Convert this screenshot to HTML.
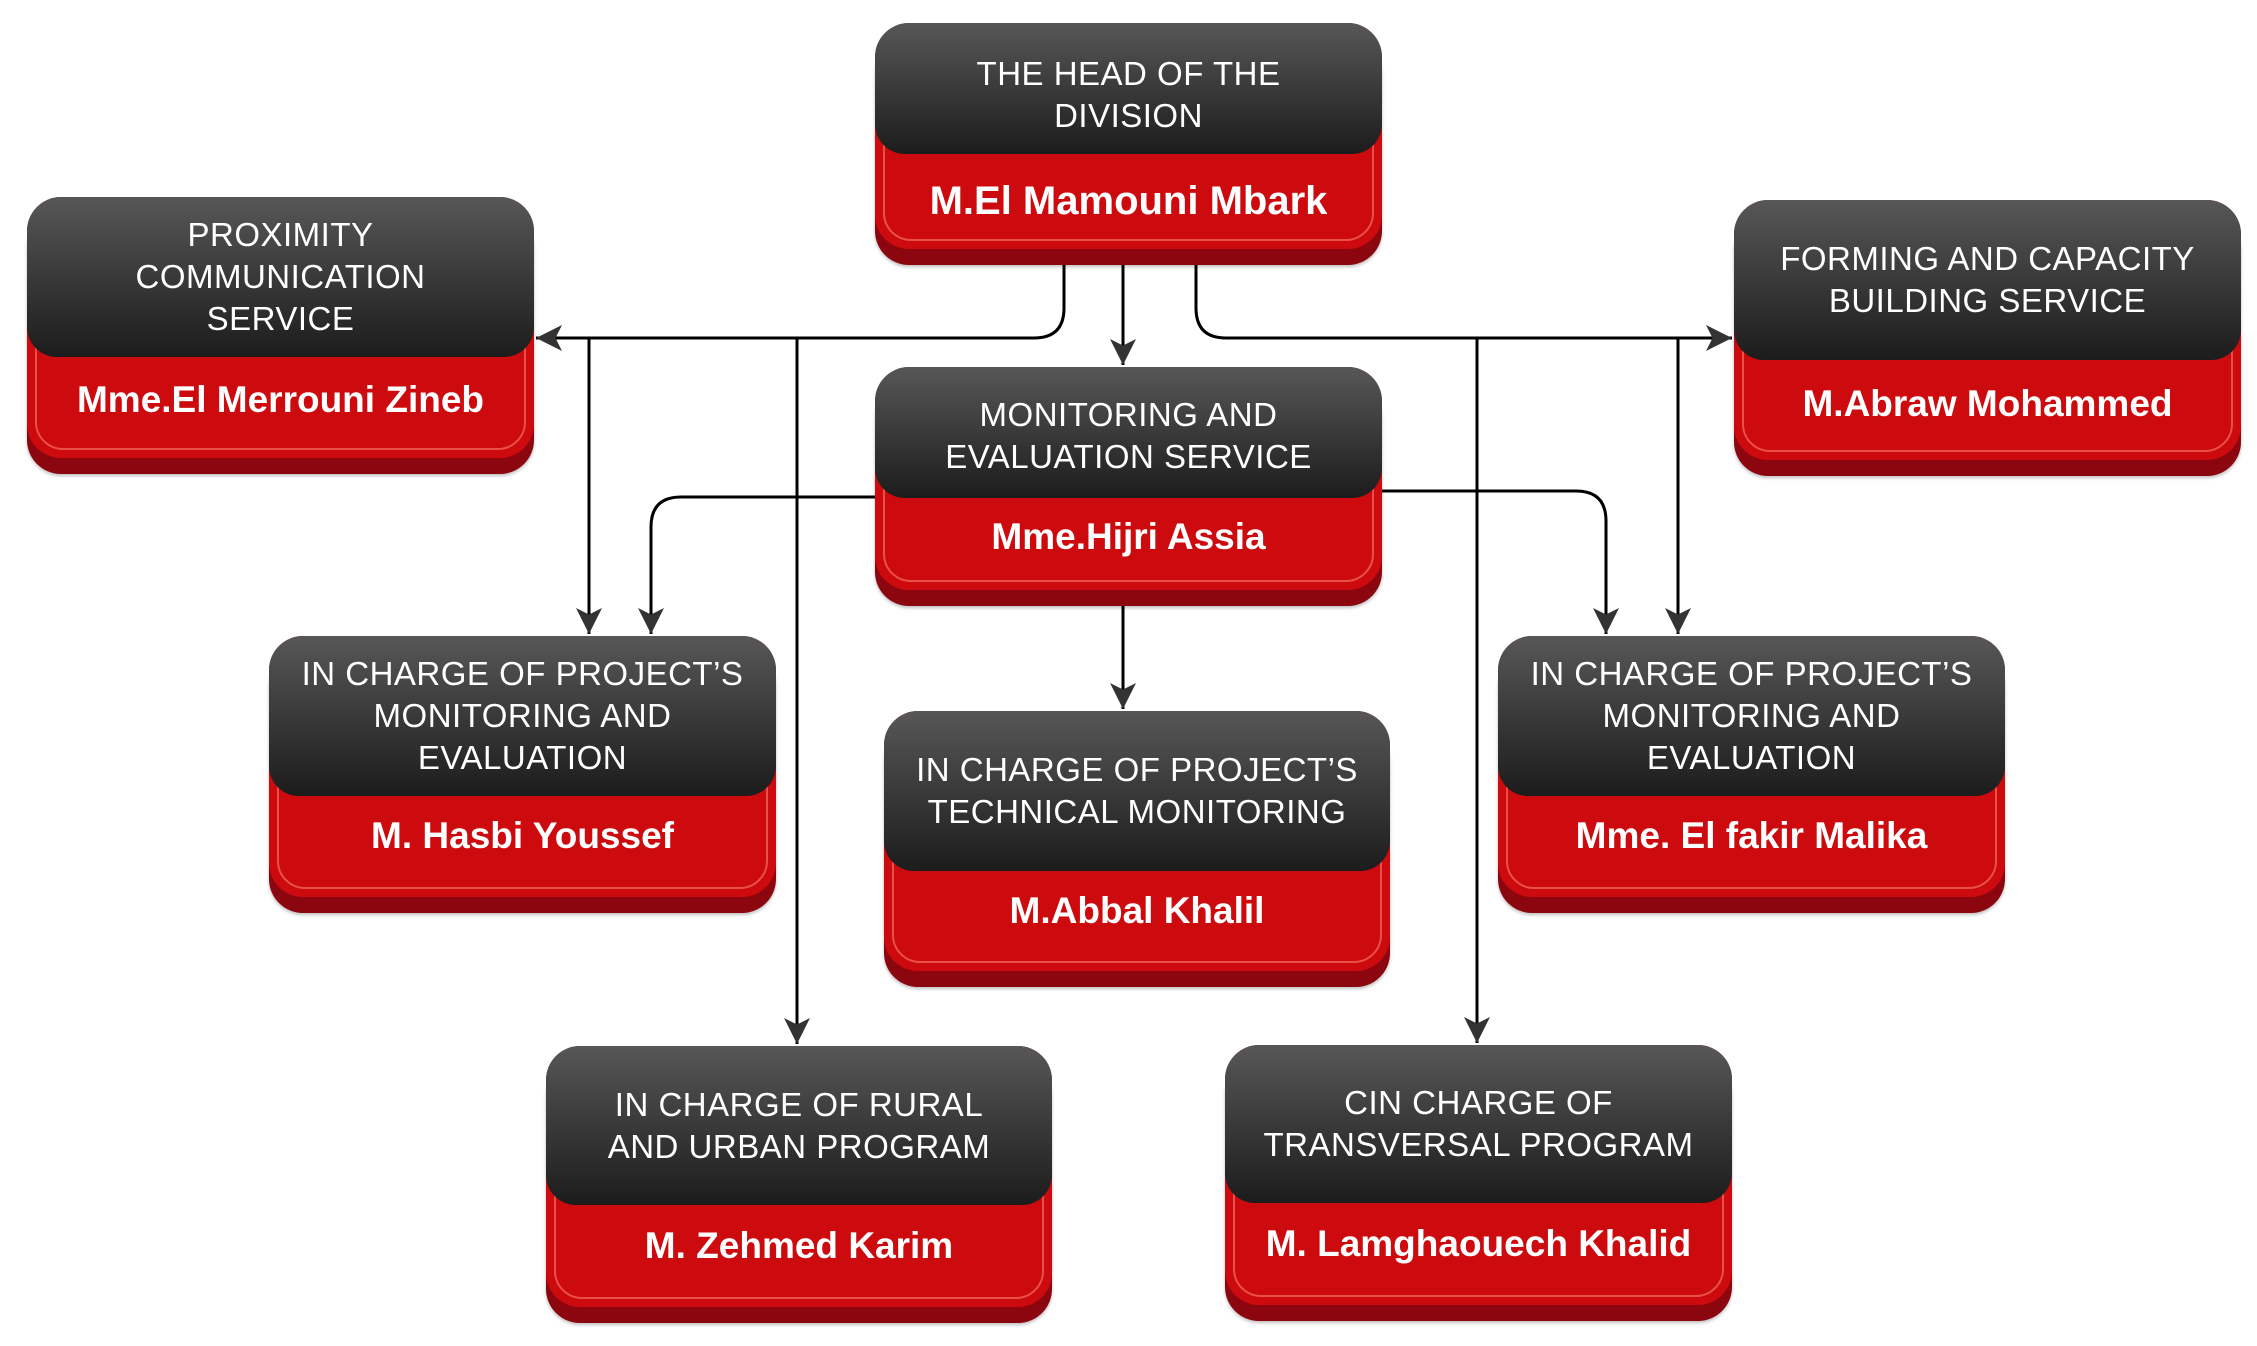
<!DOCTYPE html>
<html><head><meta charset="utf-8"><style>
html,body{margin:0;padding:0;background:#fff;}
body{width:2257px;height:1346px;position:relative;overflow:hidden;font-family:"Liberation Sans",sans-serif;}
svg{position:absolute;left:0;top:0;}
.n{position:absolute;border-radius:34px;background:#cd0a0d;box-shadow:0 16px 0 #8c0610, 0 18px 3px rgba(0,0,0,0.25);}
.n .hl{position:absolute;left:8px;right:8px;top:8px;bottom:8px;border-radius:28px;border:2px solid rgba(255,140,120,0.55);}
.n .d{position:absolute;left:0;right:0;top:0;border-radius:34px 34px 30px 30px;background:linear-gradient(#575757,#1c1c1c);color:#fff;font-size:33px;line-height:42px;text-align:center;display:flex;align-items:center;justify-content:center;letter-spacing:0.5px;}
.n .r{position:absolute;left:0;right:0;color:#fff;font-weight:bold;font-size:37px;text-align:center;display:flex;align-items:center;justify-content:center;}
</style></head><body>
<svg width="2257" height="1346">
<defs><marker id="a" viewBox="0 0 10 10" refX="10" refY="5" markerWidth="26" markerHeight="26" markerUnits="userSpaceOnUse" orient="auto"><path d="M0,0 L10,5 L0,10 L2.5,5 z" fill="#333"/></marker></defs>
<g fill="none" stroke="#000" stroke-width="3">
<path d="M1064 265 V308 Q1064 338 1034 338 H536" marker-end="url(#a)"/>
<path d="M1196 265 V308 Q1196 338 1226 338 H1732" marker-end="url(#a)"/>
<path d="M589 338 V634" marker-end="url(#a)"/>
<path d="M797 338 V1044" marker-end="url(#a)"/>
<path d="M1477 338 V1043" marker-end="url(#a)"/>
<path d="M1678 338 V634" marker-end="url(#a)"/>
<path d="M1123 265 V365" marker-end="url(#a)"/>
<path d="M1123 606 V709" marker-end="url(#a)"/>
<path d="M875 497 H681 Q651 497 651 527 V634" marker-end="url(#a)"/>
<path d="M1382 491 H1576 Q1606 491 1606 521 V634" marker-end="url(#a)"/>
</g></svg>

<div class="n" style="left:875px;top:23px;width:507px;height:226px;"><div class="hl"></div><div class="d" style="height:131px;padding-top:12px;box-sizing:border-box;">THE HEAD OF THE<br>DIVISION</div><div class="r" style="top:131px;height:95px;font-size:40px;">M.El Mamouni Mbark</div></div>

<div class="n" style="left:27px;top:197px;width:507px;height:261px;"><div class="hl"></div><div class="d" style="height:160px;">PROXIMITY<br>COMMUNICATION<br>SERVICE</div><div class="r" style="top:160px;height:85px;">Mme.El Merrouni Zineb</div></div>

<div class="n" style="left:1734px;top:200px;width:507px;height:260px;"><div class="hl"></div><div class="d" style="height:160px;">FORMING AND CAPACITY<br>BUILDING SERVICE</div><div class="r" style="top:160px;height:88px;">M.Abraw Mohammed</div></div>

<div class="n" style="left:875px;top:367px;width:507px;height:223px;"><div class="hl"></div><div class="d" style="height:131px;padding-top:6px;box-sizing:border-box;">MONITORING AND<br>EVALUATION SERVICE</div><div class="r" style="top:131px;height:78px;">Mme.Hijri Assia</div></div>

<div class="n" style="left:269px;top:636px;width:507px;height:261px;"><div class="hl"></div><div class="d" style="height:160px;">IN CHARGE OF PROJECT’S<br>MONITORING AND<br>EVALUATION</div><div class="r" style="top:160px;height:80px;">M. Hasbi Youssef</div></div>

<div class="n" style="left:884px;top:711px;width:506px;height:260px;"><div class="hl"></div><div class="d" style="height:160px;">IN CHARGE OF PROJECT’S<br>TECHNICAL MONITORING</div><div class="r" style="top:160px;height:80px;">M.Abbal Khalil</div></div>

<div class="n" style="left:1498px;top:636px;width:507px;height:261px;"><div class="hl"></div><div class="d" style="height:160px;">IN CHARGE OF PROJECT’S<br>MONITORING AND<br>EVALUATION</div><div class="r" style="top:160px;height:80px;">Mme. El fakir Malika</div></div>

<div class="n" style="left:546px;top:1046px;width:506px;height:261px;"><div class="hl"></div><div class="d" style="height:159px;">IN CHARGE OF RURAL<br>AND URBAN PROGRAM</div><div class="r" style="top:159px;height:82px;">M. Zehmed Karim</div></div>

<div class="n" style="left:1225px;top:1045px;width:507px;height:260px;"><div class="hl"></div><div class="d" style="height:158px;">CIN CHARGE OF<br>TRANSVERSAL PROGRAM</div><div class="r" style="top:158px;height:82px;">M. Lamghaouech Khalid</div></div>
</body></html>
